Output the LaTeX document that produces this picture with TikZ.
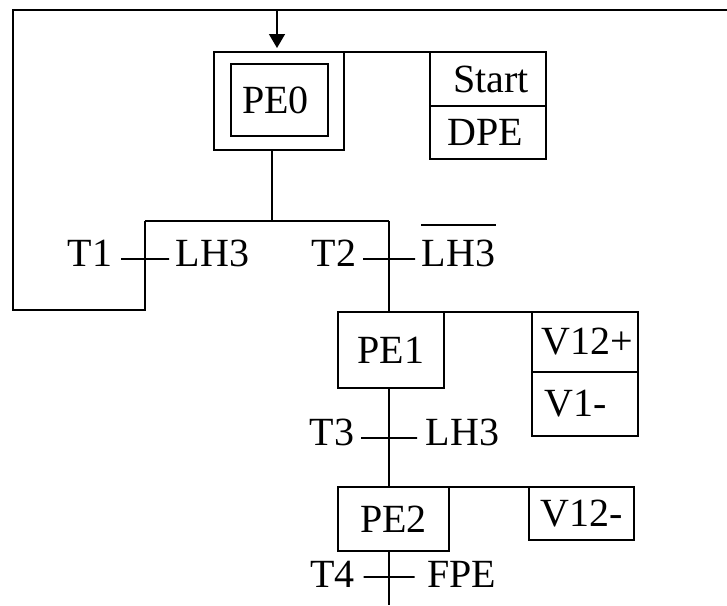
\documentclass[tikz,border=0pt]{standalone}
\usepackage{fontspec}
\setmainfont{Liberation Serif}
\usetikzlibrary{calc,arrows.meta}
\tikzstyle{etape} = [draw,line width=1.5pt,inner sep=0pt,outer sep=0pt,font=\fontsize{40}{48}\selectfont]
\tikzstyle{action} = [etape]
\tikzstyle{tick} = [draw,line width=1.5pt,inner sep=0pt,outer sep=0pt,minimum height=0pt]
\tikzstyle{lbl} = [inner sep=0pt,font=\fontsize{40}{48}\selectfont]

\begin{document}
\begin{tikzpicture}[x=1pt,y=1pt,yscale=-1,line width=1.5pt]
\useasboundingbox (0,0) rectangle (727,605);

%Shape: Square [initial step PE0]
\node[etape,minimum width=130pt,minimum height=98pt] (pe0) at (279,101) {};
\node[etape,minimum width=97pt,minimum height=72pt] (pe0in) at (279.5,100) {PE0\hspace*{8pt}};
%Shape: Rectangle [actions of PE0]
\node[action,minimum width=116pt,minimum height=54pt] (a0top) at (488,79) {\hspace*{6pt}Start};
\node[action,minimum width=116pt,minimum height=53pt,anchor=north] (a0bot) at (a0top.south) {DPE\hspace*{6pt}};

%Shape: Rectangle [step PE1]
\node[etape,minimum width=106pt,minimum height=76pt] (pe1) at (391,350) {PE1};
\node[action,minimum width=106pt,minimum height=60pt] (a1top) at (585,342) {\hspace*{4pt}V12+};
\node[action,minimum width=106pt,minimum height=64pt,anchor=north] (a1bot) at (a1top.south) {V1-\hspace*{18pt}};

%Shape: Rectangle [step PE2]
\node[etape,minimum width=111pt,minimum height=64pt] (pe2) at (393.5,519) {PE2};
\node[action,minimum width=105pt,minimum height=53pt] (a2) at (581.5,513.5) {V12-};

% coordinates of the links
\coordinate (in0) at (277,10);
\coordinate (in0end) at (277,48);
\coordinate (d0) at (272,221);
\coordinate (dl) at (145,221);
\coordinate (dr) at (389,221);
\coordinate (loopa) at (145,310);
\coordinate (loopb) at (13,310);
\coordinate (loopc) at (13,10);
\coordinate (loopd) at (727,10);
\coordinate (out0) at (389,605);

%Straight Lines
\draw (pe0.north east) -- (a0top.north west);
\draw (pe1.north east) -- (a1top.north west);
\draw (pe2.north east) -- (a2.north west);
\draw (d0 |- pe0.south) -- (d0);
\draw (dl) -- (dr);
\draw (dl) -- (loopa) -- (loopb) -- (loopc) -- (loopd);
\draw [-{Triangle[width=16pt,length=14pt]}] (in0) -- (in0end);
\draw (dr) -- (dr |- pe1.north);
\draw (dr |- pe1.south) -- (dr |- pe2.north);
\draw (dr |- pe2.south) -- (out0);

%Transitions
\node[tick,minimum width=48pt] (t1) at (145,259) {};
\node[tick,minimum width=52pt] (t2) at (389,259) {};
\node[tick,minimum width=56pt] (t3) at (389,438) {};
\node[tick,minimum width=51pt] (t4) at (389,577) {};

% Text Node
\node[lbl,anchor=base east] (t1name) at ($(t1.west)+(-8,7)$) {T1};
\node[lbl,anchor=base west] (t1cond) at ($(t1.east)+(6,7)$) {LH3};
\node[lbl,anchor=base east] (t2name) at ($(t2.west)+(-6,7)$) {T2};
\node[lbl,anchor=base west] (t2cond) at ($(t2.east)+(6,7)$) {LH3};
\draw [line width=1.5pt] ($(t2cond.north west)+(0,-14)$) -- ($(t2cond.north east)+(0,-14)$);
\node[lbl,anchor=base east] (t3name) at ($(t3.west)+(-6,7)$) {T3};
\node[lbl,anchor=base west] (t3cond) at ($(t3.east)+(8,7)$) {LH3};
\node[lbl,anchor=base east] (t4name) at ($(t4.west)+(-8,10)$) {T4};
\node[lbl,anchor=base west] (t4cond) at ($(t4.east)+(12,10)$) {FPE};

\end{tikzpicture}
\end{document}
